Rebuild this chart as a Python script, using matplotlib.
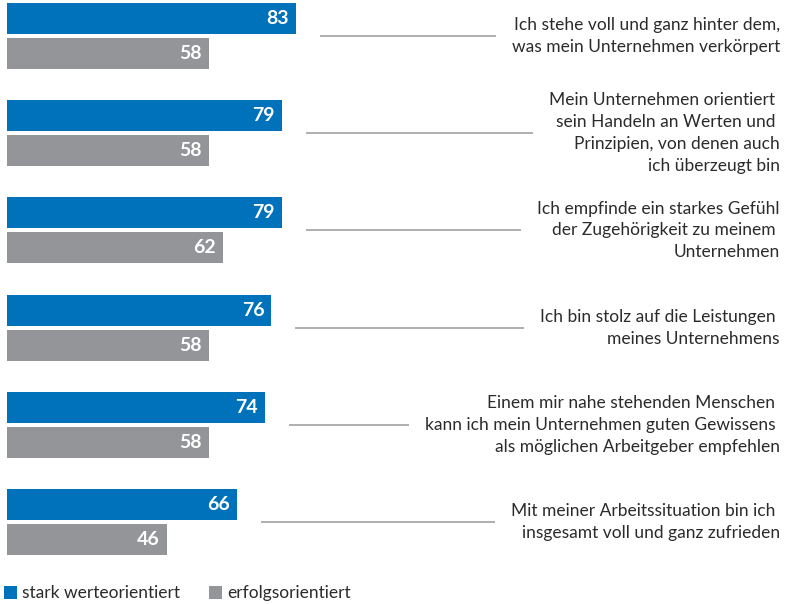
import matplotlib
matplotlib.use("Agg")
import matplotlib.pyplot as plt
import numpy as np

plt.rcParams['font.family'] = ['Lato', 'DejaVu Sans']

statements = [
    "Ich stehe voll und ganz hinter dem,\nwas mein Unternehmen verkörpert",
    "Mein Unternehmen orientiert \nsein Handeln an Werten und \nPrinzipien, von denen auch\nich überzeugt bin",
    "Ich empfinde ein starkes Gefühl\nder Zugehörigkeit zu meinem \nUnternehmen",
    "Ich bin stolz auf die Leistungen \nmeines Unternehmens",
    "Einem mir nahe stehenden Menschen \nkann ich mein Unternehmen guten Gewissens \nals möglichen Arbeitgeber empfehlen",
    "Mit meiner Arbeitssituation bin ich \ninsgesamt voll und ganz zufrieden",
]
werteorientiert = [83, 79, 79, 76, 74, 66]
erfolgsorientiert = [58, 58, 62, 58, 58, 46]
series_names = ["stark werteorientiert", "erfolgsorientiert"]

BLUE = "#0071BB"
GREY = "#949598"
LINE_GREY = "#A8A8A8"
TEXT = "#2B2B2B"

W, H = 786, 604
PX_PER_UNIT = 3.48      # horizontal pixels per percentage point
PITCH = 97.2            # vertical pixels per statement group
X0 = 7                  # pixel where bars start
Y0 = 36                 # pixel centre of first group (from top)

fig = plt.figure(figsize=(W / 100, H / 100), dpi=100)
ax = fig.add_axes([0, 0, 1, 1])
ax.set_xlim(-X0 / PX_PER_UNIT, (W - X0) / PX_PER_UNIT)
ax.set_ylim((H - Y0) / PITCH, -Y0 / PITCH)
ax.axis('off')

pos = np.arange(len(statements))
off = 17.5 / PITCH
bh = 31 / PITCH
b1 = ax.barh(pos - off, werteorientiert, height=bh, color=BLUE, label=series_names[0])
b2 = ax.barh(pos + off, erfolgsorientiert, height=bh, color=GREY, label=series_names[1])

pad = 7 / PX_PER_UNIT
for bars, vals in ((b1, werteorientiert), (b2, erfolgsorientiert)):
    for rect, v in zip(bars, vals):
        ax.text(v - pad, rect.get_y() + rect.get_height() / 2, str(v),
                ha='right', va='center', color='white', fontsize=14,
                fontweight='bold')

text_right = (780 - X0) / PX_PER_UNIT
labels = []
for i, s in enumerate(statements):
    t = ax.text(text_right, i, s, ha='right', va='center', multialignment='right',
                fontsize=12.5, color=TEXT, linespacing=1.45)
    labels.append(t)

fig.canvas.draw()
renderer = fig.canvas.get_renderer()
inv = ax.transData.inverted()
for i, t in enumerate(labels):
    bb = t.get_window_extent(renderer)
    x_end = inv.transform((bb.x0 - 16, 0))[0]
    x_start = werteorientiert[i] + 24 / PX_PER_UNIT
    ax.plot([x_start, x_end], [i, i], color=LINE_GREY, lw=1.3, solid_capstyle='butt')

leg = ax.legend(handles=[b1, b2], loc='lower left', bbox_to_anchor=(-0.002, -0.004),
                bbox_transform=fig.transFigure, ncol=2, frameon=False,
                handlelength=0.75, handleheight=0.75, handletextpad=0.3,
                columnspacing=1.7, borderpad=0.2, borderaxespad=0.1,
                fontsize=12.5)
for txt in leg.get_texts():
    txt.set_color(TEXT)

fig.savefig("out.png", dpi=100)
